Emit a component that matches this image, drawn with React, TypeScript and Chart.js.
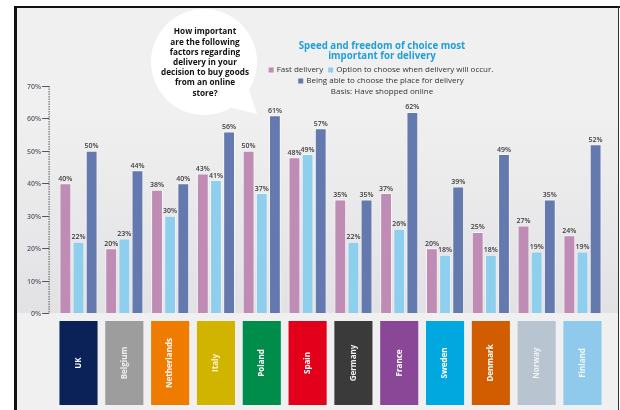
import React, { useEffect, useRef } from "react";
import { Chart, registerables } from "chart.js";

Chart.register(...registerables);

const countries = ["UK", "Belgium", "Netherlands", "Italy", "Poland", "Spain", "Germany", "France", "Sweden", "Denmark", "Norway", "Finland"];
const fastDelivery = [40, 20, 38, 43, 50, 48, 35, 37, 20, 25, 27, 24];
const chooseWhen = [22, 23, 30, 41, 37, 49, 22, 26, 18, 18, 19, 19];
const choosePlace = [50, 44, 40, 56, 61, 57, 35, 62, 39, 49, 35, 52];
const seriesLabels = ["Fast delivery", "Option to choose when delivery will occur.", "Being able to choose the place for delivery"];
const seriesColors = ["#bf8cb5", "#8ecfee", "#6479ae"];
const countryColors = ["#0b2258", "#9d9d9d", "#ef7b00", "#d1b400", "#008c4a", "#e2001a", "#3a3a3a", "#8b4797", "#00a8df", "#d25c00", "#b8c4cf", "#8fcaed"];
const countryTextColors = ["#ffffff", "#eeeeee", "#ffffff", "#fff6d0", "#ffffff", "#ffffff", "#eeeeee", "#ffffff", "#ffffff", "#ffffff", "#eef2f5", "#f2f8fc"];
const yTicks = [0, 10, 20, 30, 40, 50, 60, 70];
const titleLines = ["Speed and freedom of choice most", "important for delivery"];
const basisText = "Basis: Have shopped online";
const bubbleLines = ["How important", "are the following", "factors regarding", "delivery in your", "decision to buy goods", "from an online", "store?"];

const FONT = "'Open Sans', 'Noto Sans', sans-serif";

const decorPlugin = {
  id: "decor",
  beforeDraw(chart: any) {
    const ctx = chart.ctx as CanvasRenderingContext2D;
    const W = chart.width;
    const H = chart.height;
    const area = chart.chartArea;
    ctx.save();
    ctx.fillStyle = "#ffffff";
    ctx.fillRect(0, 0, W, H);
    // frame
    ctx.fillStyle = "#f0f0f0";
    ctx.fillRect(15, 7, W - 16, H - 7);
    const g = ctx.createLinearGradient(0, 110, 0, area.bottom);
    g.addColorStop(0, "rgba(226,226,229,0)");
    g.addColorStop(1, "rgba(226,226,229,1)");
    ctx.fillStyle = g;
    ctx.fillRect(16, 110, W - 17, area.bottom - 110);
    ctx.fillStyle = "#111111";
    ctx.fillRect(14, 6, W - 14, 2);
    ctx.fillRect(14, 6, 3, H - 6);
    ctx.fillStyle = "#333333";
    ctx.fillRect(W - 2, 6, 1, H - 6);

    // y axis
    const y = chart.scales.y;
    const ax = area.left - 6.5;
    ctx.strokeStyle = "#555555";
    ctx.lineWidth = 1;
    ctx.setLineDash([1.5, 1]);
    ctx.beginPath();
    ctx.moveTo(ax, y.getPixelForValue(yTicks[yTicks.length - 1]));
    ctx.lineTo(ax, y.getPixelForValue(0));
    ctx.stroke();
    ctx.setLineDash([]);
    ctx.font = `600 7px ${FONT}`;
    ctx.fillStyle = "#5a6270";
    ctx.textAlign = "right";
    ctx.textBaseline = "middle";
    yTicks.forEach((t) => {
      const py = Math.round(y.getPixelForValue(t)) + 0.5;
      ctx.beginPath();
      ctx.moveTo(ax - 7, py);
      ctx.lineTo(ax, py);
      ctx.stroke();
      ctx.fillText(`${t}%`, ax - 8, py);
    });
    ctx.restore();
  },
  afterDatasetsDraw(chart: any) {
    const ctx = chart.ctx as CanvasRenderingContext2D;
    ctx.save();
    ctx.font = `600 7px ${FONT}`;
    ctx.fillStyle = "#3d3d3d";
    ctx.textAlign = "center";
    ctx.textBaseline = "bottom";
    chart.data.datasets.forEach((ds: any, di: number) => {
      const meta = chart.getDatasetMeta(di);
      meta.data.forEach((el: any, i: number) => {
        ctx.fillText(`${ds.data[i]}%`, el.x, el.y - 1);
      });
    });

    // country boxes
    const m0 = chart.getDatasetMeta(0);
    const m2 = chart.getDatasetMeta(2);
    countries.forEach((c, i) => {
      const b0 = m0.data[i];
      const b2 = m2.data[i];
      const left = b0.x - b0.width / 2;
      const right = b2.x + b2.width / 2;
      const top = chart.chartArea.bottom + 8;
      const bottom = 405;
      ctx.fillStyle = countryColors[i];
      ctx.fillRect(left, top, right - left, bottom - top);
      ctx.save();
      ctx.translate((left + right) / 2, (top + bottom) / 2);
      ctx.rotate(-Math.PI / 2);
      ctx.fillStyle = countryTextColors[i];
      ctx.font = `bold 8px ${FONT}`;
      ctx.textAlign = "center";
      ctx.textBaseline = "middle";
      ctx.fillText(c, 0, 0);
      ctx.restore();
    });

    // speech bubble
    const cx = 204, cy = 62, r = 53;
    ctx.fillStyle = "#ffffff";
    ctx.beginPath();
    ctx.arc(cx, cy, r, 0, Math.PI * 2);
    ctx.fill();
    ctx.beginPath();
    const a1 = (30 * Math.PI) / 180;
    const a2 = (62 * Math.PI) / 180;
    ctx.moveTo(cx + (r - 2) * Math.cos(a1), cy + (r - 2) * Math.sin(a1));
    ctx.lineTo(257, 114);
    ctx.lineTo(cx + (r - 2) * Math.cos(a2), cy + (r - 2) * Math.sin(a2));
    ctx.closePath();
    ctx.fill();
    ctx.fillStyle = "#111111";
    ctx.font = `bold 8.2px ${FONT}`;
    ctx.textAlign = "center";
    ctx.textBaseline = "middle";
    bubbleLines.forEach((l, i) => {
      ctx.fillText(l, 205, 32 + i * 10.2);
    });

    // title
    ctx.fillStyle = "#1e9fd9";
    ctx.font = `bold 9.7px ${FONT}`;
    titleLines.forEach((l, i) => ctx.fillText(l, 382, 46 + i * 10.5));

    // legend
    ctx.font = `8px ${FONT}`;
    const drawItems = (items: number[], yy: number) => {
      const sq = 5, gap = 3, sep = 5;
      let total = 0;
      items.forEach((k, j) => {
        total += sq + gap + ctx.measureText(seriesLabels[k]).width + (j < items.length - 1 ? sep : 0);
      });
      let x = 381 - total / 2;
      items.forEach((k) => {
        ctx.fillStyle = chart.data.datasets[k].backgroundColor;
        ctx.fillRect(x, yy - sq / 2, sq, sq);
        x += sq + gap;
        ctx.fillStyle = "#333333";
        ctx.textAlign = "left";
        ctx.fillText(seriesLabels[k], x, yy);
        x += ctx.measureText(seriesLabels[k]).width + sep;
      });
    };
    drawItems([0, 1], 70);
    drawItems([2], 81);
    ctx.textAlign = "center";
    ctx.fillStyle = "#333333";
    ctx.fillText(basisText, 382, 91.5);
    ctx.restore();
  },
};

export default function App() {
  const ref = useRef<HTMLCanvasElement>(null);
  useEffect(() => {
    document.body.style.margin = "0";
    const canvas = ref.current!;
    const series = [fastDelivery, chooseWhen, choosePlace];
    const chart = new Chart(canvas, {
      type: "bar",
      data: {
        labels: countries,
        datasets: series.map((d, i) => ({
          label: seriesLabels[i],
          data: d,
          backgroundColor: seriesColors[i],
          borderColor: "rgba(255,255,255,0.55)",
          borderWidth: 1,
          categoryPercentage: 0.86,
          barPercentage: 0.9,
        })),
      },
      options: {
        animation: false,
        responsive: false,
        events: [],
        layout: { padding: { left: 55.6, right: 14.6, top: 86, bottom: 97 } },
        plugins: { legend: { display: false }, tooltip: { enabled: false }, title: { display: false } },
        scales: {
          x: { type: "category", display: false, offset: true },
          y: { display: false, min: 0, max: 70 },
        },
      },
      plugins: [decorPlugin],
    });
    return () => chart.destroy();
  }, []);
  return (
    <div style={{ position: "absolute", left: 0, top: 0, width: 620, height: 410 }}>
      <canvas ref={ref} width={620} height={410} style={{ display: "block", width: 620, height: 410 }} />
    </div>
  );
}
